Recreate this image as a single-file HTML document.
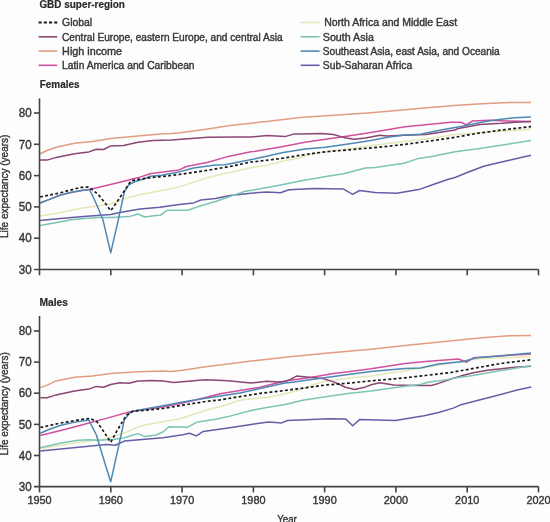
<!DOCTYPE html>
<html><head><meta charset="utf-8"><style>
html,body{margin:0;padding:0;background:#fdfdfd;}
svg{display:block;filter:blur(0.35px);}
text{font-family:"Liberation Sans",sans-serif;fill:#383838;stroke:#383838;stroke-width:0.4px;}
.tk{font-size:11.4px;}
.tky{font-size:12px;}
.lb{font-size:10.6px;}
.lb2{font-size:10px;}
.hd{font-size:10.6px;font-weight:bold;fill:#2a2a2a;stroke:#2a2a2a;stroke-width:0.2px;}
.lg{font-size:10.1px;}
</style></head><body>
<svg width="550" height="522" viewBox="0 0 550 522">
<rect width="550" height="522" fill="#fdfdfd"/>
<polyline points="40.0,216.0 60.7,212.5 80.0,208.5 110.7,204.0 116.8,201.6 127.7,197.8 138.6,195.1 155.0,191.8 179.1,186.9 208.2,177.5 225.0,173.5 254.1,166.9 265.7,165.5 283.2,161.1 300.0,157.7 314.5,153.4 329.1,151.2 358.2,147.5 380.0,144.6 404.1,141.6 433.2,138.0 455.0,134.4 476.3,133.0 531.0,129.2" fill="none" stroke="#e4e8b8" stroke-width="1.5" stroke-linejoin="round"/>
<polyline points="40.0,220.5 60.7,218.6 83.5,216.6 110.7,214.5 119.8,212.5 140.0,209.1 160.0,207.3 179.1,204.4 193.6,202.9 200.9,200.0 215.5,198.5 230.0,195.6 250.9,193.2 266.8,192.0 280.5,192.7 289.0,189.8 314.0,188.6 343.6,189.1 352.7,194.3 359.5,190.5 375.0,192.5 396.8,193.3 418.6,189.6 433.2,184.5 447.7,179.5 455.0,177.5 467.2,172.5 484.5,166.0 510.3,160.0 531.0,155.2" fill="none" stroke="#645ea6" stroke-width="1.5" stroke-linejoin="round"/>
<polyline points="40.0,153.7 47.1,150.5 56.2,147.2 74.4,143.2 92.5,141.4 110.7,138.6 138.0,135.9 160.7,134.0 171.4,133.6 180.5,132.7 207.7,129.1 230.0,125.5 266.4,121.5 302.7,117.3 330.0,115.5 370.9,112.7 405.0,109.8 427.3,107.8 454.5,105.4 481.8,103.7 509.0,102.6 531.0,102.4" fill="none" stroke="#e29c80" stroke-width="1.5" stroke-linejoin="round"/>
<polyline points="40.0,203.0 48.9,199.6 59.8,195.3 70.7,192.5 81.6,190.4 89.5,189.4 116.8,182.9 138.6,177.6 150.0,173.8 165.0,171.8 179.1,169.9 186.4,166.5 208.2,162.2 228.2,156.4 250.9,151.8 254.1,151.6 283.2,146.5 305.0,142.2 325.5,139.3 348.2,135.9 370.9,132.5 405.0,126.8 425.4,124.8 450.9,122.3 461.0,122.3 466.2,124.8 472.5,121.0 489.0,120.3 507.0,121.0 531.0,121.5" fill="none" stroke="#d0509e" stroke-width="1.5" stroke-linejoin="round"/>
<polyline points="40.0,159.9 47.1,160.1 56.2,157.4 74.4,153.7 88.9,151.9 96.2,149.2 103.5,149.5 110.7,145.9 123.5,145.4 138.0,142.3 153.2,140.5 171.4,140.0 207.7,137.3 235.0,136.9 250.9,137.0 266.8,135.5 285.0,136.6 293.6,134.1 300.0,134.0 321.8,133.4 333.5,134.5 343.6,137.4 353.8,139.3 365.5,138.1 380.0,135.2 386.8,136.0 404.1,135.3 425.9,134.4 440.5,132.2 455.0,130.0 458.2,128.5 480.0,124.4 501.8,123.3 514.5,122.3 531.0,121.5" fill="none" stroke="#8a4674" stroke-width="1.5" stroke-linejoin="round"/>
<polyline points="40.0,225.6 59.8,222.0 70.7,219.8 81.6,218.7 98.0,217.6 110.7,217.5 129.0,216.6 138.0,214.0 144.8,217.0 156.0,215.5 160.2,215.3 167.5,210.2 187.8,210.2 200.9,205.8 215.5,201.5 225.0,198.2 243.9,191.6 268.6,187.3 283.2,184.4 300.0,181.0 329.1,175.9 343.6,173.7 365.5,167.9 375.0,167.5 404.1,163.2 418.6,158.4 433.2,156.2 455.0,151.8 481.8,148.2 509.0,144.1 531.0,140.5" fill="none" stroke="#7cc4b6" stroke-width="1.5" stroke-linejoin="round"/>
<polyline points="40.0,203.0 48.9,199.6 59.8,195.3 70.7,192.5 81.6,190.4 89.5,189.4 95.3,201.5 103.0,219.8 110.7,252.8 118.3,219.8 124.4,191.5 129.0,184.6 135.2,181.5 143.6,179.1 150.0,176.3 161.8,175.3 179.1,171.9 193.6,168.0 215.5,165.1 225.0,164.7 254.1,158.9 283.2,152.4 305.0,149.0 325.5,147.3 348.2,143.9 370.9,140.5 389.0,137.0 405.0,135.0 420.4,134.3 438.2,130.4 463.6,125.9 489.0,120.8 514.5,117.7 531.0,117.0" fill="none" stroke="#4e88b4" stroke-width="1.5" stroke-linejoin="round"/>
<polyline points="40.0,197.0 60.7,192.7 80.0,187.5 88.0,187.0 90.7,188.4 98.4,194.6 104.5,202.2 110.7,210.7 116.8,202.2 122.9,193.0 131.0,180.9 138.6,179.3 155.0,177.1 163.0,176.5 179.1,174.5 208.2,170.2 230.0,166.5 250.9,162.0 254.1,161.8 283.2,158.2 305.0,154.5 325.5,151.8 329.1,151.5 358.2,149.0 380.0,147.1 404.1,144.5 433.2,140.5 455.0,137.3 476.3,133.5 501.8,130.0 531.0,126.6" fill="none" stroke="#1a1a1a" stroke-width="1.7" stroke-dasharray="2.9 2.3" stroke-linejoin="round"/>
<line x1="39.5" y1="98.4" x2="39.5" y2="275.3" stroke="#444444" stroke-width="1.6"/>
<line x1="34.0" y1="269.5" x2="538.5" y2="269.5" stroke="#444444" stroke-width="1.6"/>
<line x1="34.0" y1="238.2" x2="39.5" y2="238.2" stroke="#444444" stroke-width="1.6"/>
<line x1="34.0" y1="206.9" x2="39.5" y2="206.9" stroke="#444444" stroke-width="1.6"/>
<line x1="34.0" y1="175.6" x2="39.5" y2="175.6" stroke="#444444" stroke-width="1.6"/>
<line x1="34.0" y1="144.3" x2="39.5" y2="144.3" stroke="#444444" stroke-width="1.6"/>
<line x1="34.0" y1="113.0" x2="39.5" y2="113.0" stroke="#444444" stroke-width="1.6"/>
<line x1="110.8" y1="269.5" x2="110.8" y2="275.3" stroke="#444444" stroke-width="1.6"/>
<line x1="182.1" y1="269.5" x2="182.1" y2="275.3" stroke="#444444" stroke-width="1.6"/>
<line x1="253.4" y1="269.5" x2="253.4" y2="275.3" stroke="#444444" stroke-width="1.6"/>
<line x1="324.6" y1="269.5" x2="324.6" y2="275.3" stroke="#444444" stroke-width="1.6"/>
<line x1="395.9" y1="269.5" x2="395.9" y2="275.3" stroke="#444444" stroke-width="1.6"/>
<line x1="467.2" y1="269.5" x2="467.2" y2="275.3" stroke="#444444" stroke-width="1.6"/>
<line x1="538.5" y1="269.5" x2="538.5" y2="275.3" stroke="#444444" stroke-width="1.6"/>
<text x="31.6" y="273.7" text-anchor="end" class="tky" textLength="12.9" lengthAdjust="spacingAndGlyphs">30</text>
<text x="31.6" y="242.4" text-anchor="end" class="tky" textLength="12.9" lengthAdjust="spacingAndGlyphs">40</text>
<text x="31.6" y="211.1" text-anchor="end" class="tky" textLength="12.9" lengthAdjust="spacingAndGlyphs">50</text>
<text x="31.6" y="179.8" text-anchor="end" class="tky" textLength="12.9" lengthAdjust="spacingAndGlyphs">60</text>
<text x="31.6" y="148.5" text-anchor="end" class="tky" textLength="12.9" lengthAdjust="spacingAndGlyphs">70</text>
<text x="31.6" y="117.2" text-anchor="end" class="tky" textLength="12.9" lengthAdjust="spacingAndGlyphs">80</text>
<polyline points="40.3,448.6 60.7,445.2 83.5,441.8 106.2,439.0 123.7,433.3 141.0,425.9 150.0,424.1 179.1,419.0 208.2,409.5 225.6,405.2 232.0,402.8 239.5,400.3 254.0,398.5 268.6,397.2 283.6,394.0 298.2,390.4 305.5,387.6 311.8,385.1 322.7,381.8 333.6,380.2 350.0,378.0 370.9,376.0 405.0,370.7 476.3,359.0 531.0,356.5" fill="none" stroke="#e4e8b8" stroke-width="1.5" stroke-linejoin="round"/>
<polyline points="40.3,450.9 60.7,449.1 83.5,446.8 106.2,444.5 115.3,445.2 124.4,441.1 163.0,437.7 182.7,434.8 189.5,433.2 196.4,435.9 203.2,431.4 228.2,428.0 250.9,424.5 268.6,421.9 281.7,422.9 287.5,420.5 329.0,418.7 345.9,419.1 352.7,425.7 359.5,419.6 395.4,420.6 424.1,415.8 438.6,412.5 453.2,408.1 460.0,405.1 489.1,397.5 518.2,389.8 531.3,386.9" fill="none" stroke="#645ea6" stroke-width="1.5" stroke-linejoin="round"/>
<polyline points="40.3,387.6 47.1,385.1 56.2,380.9 74.4,377.3 92.5,376.0 110.7,373.6 138.0,371.8 163.0,370.9 171.4,371.4 182.7,370.2 205.5,366.8 228.2,363.9 250.9,361.1 285.0,357.3 325.5,353.2 370.9,349.2 405.0,345.6 427.3,343.2 454.5,340.5 481.8,337.7 509.0,335.8 531.0,335.5" fill="none" stroke="#e29c80" stroke-width="1.5" stroke-linejoin="round"/>
<polyline points="40.3,435.5 60.7,430.5 83.5,424.5 106.2,418.4 129.0,412.0 163.0,407.0 182.7,403.0 205.5,397.5 220.0,393.7 240.0,390.5 260.0,387.2 285.0,381.0 290.0,380.2 311.8,377.2 333.6,373.6 350.0,371.5 370.9,368.8 405.0,363.6 425.4,361.5 458.5,359.0 466.2,362.3 473.8,357.7 501.8,355.7 531.0,353.9" fill="none" stroke="#d0509e" stroke-width="1.5" stroke-linejoin="round"/>
<polyline points="40.3,397.8 47.1,397.8 56.2,394.9 74.4,390.9 88.9,389.1 96.2,386.4 103.5,387.3 110.7,384.5 119.8,382.7 128.9,383.3 138.0,380.9 140.3,380.9 151.6,380.5 163.0,381.0 173.6,382.6 205.5,379.8 228.2,380.8 250.9,383.1 266.8,381.2 278.2,382.0 285.0,381.5 290.0,379.6 296.5,376.1 311.8,377.4 322.7,378.5 333.0,381.6 339.5,384.5 345.5,387.3 354.5,389.5 363.6,387.6 372.0,384.5 380.0,382.7 393.6,385.0 405.0,385.3 416.8,385.5 431.4,385.5 438.6,383.4 453.2,378.3 460.5,376.1 474.5,372.4 489.1,369.9 499.3,369.0 515.0,367.3 531.0,366.2" fill="none" stroke="#8a4674" stroke-width="1.5" stroke-linejoin="round"/>
<polyline points="40.3,447.7 61.0,443.1 78.2,440.2 89.7,439.7 97.8,440.2 113.0,439.5 124.4,437.7 138.0,433.6 144.8,436.6 156.2,435.0 163.0,432.0 169.0,426.8 187.3,427.3 196.4,422.3 216.8,418.9 228.2,416.6 250.9,410.5 266.8,407.5 285.0,404.5 302.7,400.2 325.5,396.8 348.2,393.4 370.9,391.1 405.0,386.2 420.0,384.5 429.0,382.0 443.6,380.2 458.2,377.6 470.0,375.9 496.8,371.2 531.0,365.7" fill="none" stroke="#7cc4b6" stroke-width="1.5" stroke-linejoin="round"/>
<polyline points="40.3,433.3 49.5,429.3 61.0,425.3 72.5,422.4 88.8,419.9 96.4,435.0 103.6,459.0 110.7,481.8 117.5,451.4 124.4,419.5 131.2,411.6 163.0,405.7 182.7,402.0 205.5,398.2 220.0,395.9 240.0,393.0 260.0,388.6 285.0,383.0 290.0,382.4 311.8,379.6 333.6,376.4 350.0,374.2 370.9,371.6 405.0,368.5 420.4,367.9 438.2,364.1 463.6,361.5 476.3,357.7 501.8,355.7 531.0,353.1" fill="none" stroke="#4e88b4" stroke-width="1.5" stroke-linejoin="round"/>
<polyline points="40.3,427.5 60.7,423.0 83.5,419.1 90.3,418.4 97.0,421.8 104.0,432.0 110.7,442.3 117.5,429.8 126.6,415.0 133.5,410.9 142.5,410.5 163.0,408.5 182.7,405.2 205.5,401.5 220.0,399.9 240.0,396.6 260.0,393.4 285.0,390.5 302.7,388.2 325.5,385.0 348.2,383.2 370.9,380.9 405.0,377.8 425.4,375.5 450.9,372.5 476.3,367.9 501.8,363.3 531.0,359.8" fill="none" stroke="#1a1a1a" stroke-width="1.7" stroke-dasharray="2.9 2.3" stroke-linejoin="round"/>
<line x1="39.5" y1="316" x2="39.5" y2="492.40000000000003" stroke="#444444" stroke-width="1.6"/>
<line x1="34.0" y1="486.6" x2="538.5" y2="486.6" stroke="#444444" stroke-width="1.6"/>
<line x1="34.0" y1="455.5" x2="39.5" y2="455.5" stroke="#444444" stroke-width="1.6"/>
<line x1="34.0" y1="424.4" x2="39.5" y2="424.4" stroke="#444444" stroke-width="1.6"/>
<line x1="34.0" y1="393.2" x2="39.5" y2="393.2" stroke="#444444" stroke-width="1.6"/>
<line x1="34.0" y1="362.1" x2="39.5" y2="362.1" stroke="#444444" stroke-width="1.6"/>
<line x1="34.0" y1="331.0" x2="39.5" y2="331.0" stroke="#444444" stroke-width="1.6"/>
<line x1="110.8" y1="486.6" x2="110.8" y2="492.40000000000003" stroke="#444444" stroke-width="1.6"/>
<line x1="182.1" y1="486.6" x2="182.1" y2="492.40000000000003" stroke="#444444" stroke-width="1.6"/>
<line x1="253.4" y1="486.6" x2="253.4" y2="492.40000000000003" stroke="#444444" stroke-width="1.6"/>
<line x1="324.6" y1="486.6" x2="324.6" y2="492.40000000000003" stroke="#444444" stroke-width="1.6"/>
<line x1="395.9" y1="486.6" x2="395.9" y2="492.40000000000003" stroke="#444444" stroke-width="1.6"/>
<line x1="467.2" y1="486.6" x2="467.2" y2="492.40000000000003" stroke="#444444" stroke-width="1.6"/>
<line x1="538.5" y1="486.6" x2="538.5" y2="492.40000000000003" stroke="#444444" stroke-width="1.6"/>
<text x="31.6" y="490.8" text-anchor="end" class="tky" textLength="12.9" lengthAdjust="spacingAndGlyphs">30</text>
<text x="31.6" y="459.7" text-anchor="end" class="tky" textLength="12.9" lengthAdjust="spacingAndGlyphs">40</text>
<text x="31.6" y="428.6" text-anchor="end" class="tky" textLength="12.9" lengthAdjust="spacingAndGlyphs">50</text>
<text x="31.6" y="397.4" text-anchor="end" class="tky" textLength="12.9" lengthAdjust="spacingAndGlyphs">60</text>
<text x="31.6" y="366.3" text-anchor="end" class="tky" textLength="12.9" lengthAdjust="spacingAndGlyphs">70</text>
<text x="31.6" y="335.2" text-anchor="end" class="tky" textLength="12.9" lengthAdjust="spacingAndGlyphs">80</text>
<text x="39.5" y="504.0" text-anchor="middle" class="tk" textLength="24.2" lengthAdjust="spacingAndGlyphs">1950</text>
<text x="110.8" y="504.0" text-anchor="middle" class="tk" textLength="24.2" lengthAdjust="spacingAndGlyphs">1960</text>
<text x="182.1" y="504.0" text-anchor="middle" class="tk" textLength="24.2" lengthAdjust="spacingAndGlyphs">1970</text>
<text x="253.4" y="504.0" text-anchor="middle" class="tk" textLength="24.2" lengthAdjust="spacingAndGlyphs">1980</text>
<text x="324.6" y="504.0" text-anchor="middle" class="tk" textLength="24.2" lengthAdjust="spacingAndGlyphs">1990</text>
<text x="395.9" y="504.0" text-anchor="middle" class="tk" textLength="24.2" lengthAdjust="spacingAndGlyphs">2000</text>
<text x="467.2" y="504.0" text-anchor="middle" class="tk" textLength="24.2" lengthAdjust="spacingAndGlyphs">2010</text>
<text x="538.5" y="504.0" text-anchor="middle" class="tk" textLength="24.2" lengthAdjust="spacingAndGlyphs">2020</text>
<text x="287.00" y="522.5" text-anchor="middle" class="lb" textLength="19.61" lengthAdjust="spacingAndGlyphs">Year</text>
<text transform="translate(8.4,186.3) rotate(-90)" text-anchor="middle" class="lb2">Life expectancy (years)</text>
<text transform="translate(8.4,403.9) rotate(-90)" text-anchor="middle" class="lb2">Life expectancy (years)</text>
<text x="39.40" y="8.4" class="hd" textLength="85.53" lengthAdjust="spacingAndGlyphs">GBD super-region</text>
<text x="39.80" y="87.6" class="hd" textLength="39.71" lengthAdjust="spacingAndGlyphs">Females</text>
<text x="39.50" y="305.6" class="hd" textLength="28.55" lengthAdjust="spacingAndGlyphs">Males</text>
<line x1="38.6" y1="22.5" x2="57.4" y2="22.5" stroke="#1a1a1a" stroke-width="1.8" stroke-dasharray="3.1 2.1"/>
<text x="62.10" y="26.4" class="lg" textLength="30.09" lengthAdjust="spacingAndGlyphs">Global</text>
<line x1="38.6" y1="36.8" x2="57.2" y2="36.8" stroke="#8a4674" stroke-width="1.6"/>
<text x="62.00" y="40.7" class="lg" textLength="220.65" lengthAdjust="spacingAndGlyphs">Central Europe, eastern Europe, and central Asia</text>
<line x1="38.6" y1="51.1" x2="57.2" y2="51.1" stroke="#e29c80" stroke-width="1.6"/>
<text x="62.10" y="55.0" class="lg" textLength="59.91" lengthAdjust="spacingAndGlyphs">High income</text>
<line x1="38.6" y1="65.3" x2="57.2" y2="65.3" stroke="#d0509e" stroke-width="1.6"/>
<text x="62.10" y="69.2" class="lg" textLength="132.49" lengthAdjust="spacingAndGlyphs">Latin America and Caribbean</text>
<line x1="300.6" y1="22.5" x2="319.6" y2="22.5" stroke="#e4e8b8" stroke-width="1.6"/>
<text x="324.20" y="26.4" class="lg" textLength="132.92" lengthAdjust="spacingAndGlyphs">North Africa and Middle East</text>
<line x1="300.6" y1="36.8" x2="319.6" y2="36.8" stroke="#7cc4b6" stroke-width="1.6"/>
<text x="322.80" y="40.7" class="lg" textLength="51.07" lengthAdjust="spacingAndGlyphs">South Asia</text>
<line x1="300.6" y1="51.1" x2="319.6" y2="51.1" stroke="#4e88b4" stroke-width="1.6"/>
<text x="322.80" y="55.0" class="lg" textLength="176.87" lengthAdjust="spacingAndGlyphs">Southeast Asia, east Asia, and Oceania</text>
<line x1="300.6" y1="65.3" x2="319.6" y2="65.3" stroke="#645ea6" stroke-width="1.6"/>
<text x="322.80" y="69.2" class="lg" textLength="89.45" lengthAdjust="spacingAndGlyphs">Sub-Saharan Africa</text>
</svg>
</body></html>
